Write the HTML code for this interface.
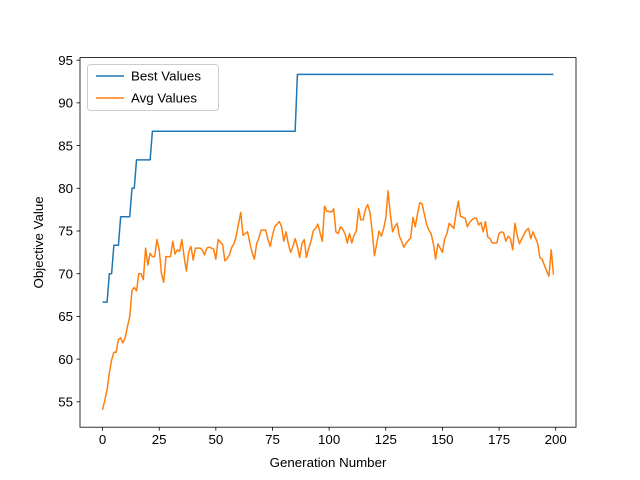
<!DOCTYPE html>
<html><head><meta charset="utf-8"><style>
body{margin:0;background:#fff}
svg{display:block;font-family:"Liberation Sans","DejaVu Sans",sans-serif}
</style></head><body>
<svg id="chart" width="640" height="480" viewBox="0 0 640 480"></svg>
<script>
const generations = Array.from({length:200},(_,i)=>i);
const bestValues = [];
const bestSteps = [[0,66.67],[3,70],[5,73.33],[8,76.67],[13,80],[15,83.33],[22,86.67],[86,93.33]];
const avgValues = [54.06,55.2,56.4,58.4,59.9,60.8,60.8,62.3,62.5,61.9,62.5,63.8,65,68,68.4,68,70,70,69.3,73,71,72.4,72,72,74,72.8,70,69,72,72,72,73.8,72.3,72.8,72.6,74,72,70.3,72.5,73.2,71.6,73,73,73,72.8,72.2,73,73.1,73,72.9,71.7,74,73.7,73.4,71.5,71.8,72.2,73.1,73.5,74.4,75.8,77.2,74.5,74.7,74.9,73.6,72.5,71.7,73.5,74.2,75.1,75.1,75.1,74,73.2,74.5,75.5,75.8,76.1,75.5,73.8,74.9,73.5,72.5,73.2,74.1,73.2,71.9,73.5,74,71.9,73,73.8,75,75.3,75.8,74.8,73.8,77.9,77.3,77.3,77.2,77.6,74.9,74.7,75.5,75.2,74.7,73.6,74.7,73.6,74.5,75,77.6,76.3,76.3,77.5,78.1,77.2,75,72.1,73.5,75,74.4,75.2,76.5,79.7,77,74.9,75.5,75.9,74.4,73.8,73.1,73.6,73.9,74.2,76.6,75.5,77,78.3,78.2,77,75.8,75.1,74.7,73.5,71.7,73.5,73,72.5,74.1,74.7,75.9,75.6,75.3,77,78.5,76.7,76.6,76.5,75.5,76,76.3,76.5,76.5,75.7,76,74.9,76.1,74.3,74.1,73.6,73.6,73.6,74.7,74.9,74.8,73.8,74.4,74.1,72.8,75.9,74.5,73.5,74.1,74.6,75.1,75.3,74.1,74.9,74.2,73.6,71.9,71.7,71,70.3,69.7,72.8,69.9];
const xTicks = [0,25,50,75,100,125,150,175,200];
const yTicks = [55,60,65,70,75,80,85,90,95];
for(let i=0;i<200;i++){let v=bestSteps[0][1];for(const s of bestSteps){if(i>=s[0])v=s[1];}bestValues.push(v);}

const L=80,R=576,T=57.6,B=427.2;
const xmin=-9.95,xmax=208.95,ymin=52.03,ymax=95.3;
const sx=v=>L+(v-xmin)/(xmax-xmin)*(R-L);
const sy=v=>B-(v-ymin)/(ymax-ymin)*(B-T);
const NS="http://www.w3.org/2000/svg";
const svg=document.getElementById('chart');
function mk(tag,attrs,parent){const e=document.createElementNS(NS,tag);for(const k in attrs)e.setAttribute(k,attrs[k]);(parent||svg).appendChild(e);return e;}

function series(vals,color,name){
  const d=vals.map((v,i)=>(i?'L':'M')+sx(generations[i]).toFixed(2)+','+sy(v).toFixed(2)).join('');
  const p=mk('path',{d:d,fill:'none',stroke:color,'stroke-width':1.5,'stroke-linejoin':'round'});
  
  
}
series(bestValues,'#1f77b4','best-values-line');
series(avgValues,'#ff7f0e','avg-values-line');

const frame=mk('rect',{x:L,y:T,width:R-L,height:B-T,fill:'none',stroke:'#000','stroke-width':0.8});



xTicks.forEach(t=>{
  const x=sx(t);
  const ln=mk('line',{x1:x,x2:x,y1:B,y2:B+3.5,stroke:'#000','stroke-width':0.8});
  
  
  const tx=mk('text',{x:x,y:B+17,'text-anchor':'middle','font-size':13.3,fill:'#000'});
  tx.textContent=t;
  
  
});
yTicks.forEach(t=>{
  const y=sy(t);
  const ln=mk('line',{x1:L-3.5,x2:L,y1:y,y2:y,stroke:'#000','stroke-width':0.8});
  
  
  const tx=mk('text',{x:L-7,y:y+4.7,'text-anchor':'end','font-size':13.3,fill:'#000'});
  tx.textContent=t;
  
  
});
</script>
<svg width="0" height="0"></svg>
<script>
(function(){
const svg=document.getElementById('chart');
const NS="http://www.w3.org/2000/svg";
function mk(tag,attrs,txt){const e=document.createElementNS(NS,tag);for(const k in attrs)e.setAttribute(k,attrs[k]);if(txt)e.textContent=txt;svg.appendChild(e);return e;}
const xl=mk('text',{x:328,y:467,'text-anchor':'middle','font-size':13.3},'Generation Number');


const yl=mk('text',{x:0,y:0,'text-anchor':'middle','font-size':13.3,transform:'translate(43,242.4) rotate(-90)'},'Objective Value');


const lg=mk('rect',{x:87.5,y:64.5,width:131,height:46,rx:3,fill:'#fff','fill-opacity':0.8,stroke:'#ccc','stroke-width':1});


const l1=mk('line',{x1:96,x2:124,y1:76,y2:76,stroke:'#1f77b4','stroke-width':1.5});


const t1=mk('text',{x:131,y:80.5,'font-size':13.3},'Best Values');


const l2=mk('line',{x1:96,x2:124,y1:98,y2:98,stroke:'#ff7f0e','stroke-width':1.5});


const t2=mk('text',{x:131,y:102.5,'font-size':13.3},'Avg Values');


})();
</script>
</body></html>
